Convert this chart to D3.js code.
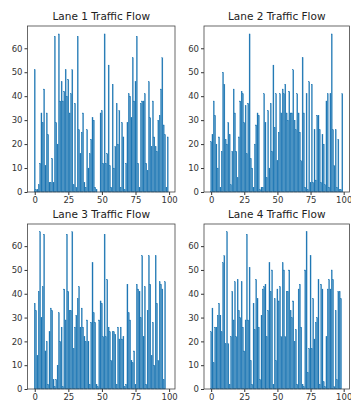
<!DOCTYPE html>
<html>
<head>
<meta charset="utf-8">
<script src="https://cdn.jsdelivr.net/npm/d3@7"></script>
<style>
  body { margin: 0; background: #fff; }
  .tick text { font-family: "DejaVu Sans", sans-serif; font-size: 8.5px; fill: #333; }
  .tick line { stroke: #333; }
  .title { font-family: "DejaVu Sans", sans-serif; font-size: 10.5px; fill: #222; }
</style>
</head>
<body>
<script>
const titles = ['Lane 1 Traffic Flow', 'Lane 2 Traffic Flow', 'Lane 3 Traffic Flow', 'Lane 4 Traffic Flow'];

const lane1 = [51,1,1,3,12,33,29,43,11,33,24,4,4,14,4,65,29,20,66,38,
  46,38,42,51,40,47,33,41,51,3,37,2,65,26,16,25,33,4,2,26,
  10,16,22,31,30,2,1,0,0,33,34,12,66,12,16,53,11,2,45,10,
  19,37,20,34,2,29,23,1,12,29,41,40,31,56,38,46,65,12,2,37,
  38,38,41,12,9,46,31,19,38,23,19,17,30,32,43,56,28,24,2,23];

const lane2 = [21,24,38,32,20,10,23,2,17,50,45,22,20,29,24,3,17,43,33,17,
  6,23,38,42,41,29,36,16,37,66,14,10,2,20,28,33,32,1,2,2,
  41,29,6,34,10,37,17,53,27,41,13,25,41,33,43,41,45,33,30,42,
  33,33,51,30,26,41,33,25,13,56,33,2,41,1,46,4,45,4,26,5,
  32,32,26,4,24,20,3,38,41,2,41,66,26,11,26,2,22,1,1,41];

const lane3 = [36,33,14,41,66,30,43,65,16,20,2,24,34,33,4,1,4,10,32,20,
  26,1,42,29,65,41,33,33,66,17,26,31,38,43,26,34,26,22,20,29,
  20,2,28,53,32,28,2,1,29,37,36,22,65,22,46,26,24,12,24,24,
  23,2,26,21,26,21,22,1,2,44,32,29,12,11,16,2,44,42,41,30,
  56,22,43,2,33,56,44,14,28,10,56,36,12,45,44,42,4,45,0,0];

const lane4 = [24,34,11,26,26,31,36,31,24,53,56,19,66,19,2,22,41,29,45,22,
  46,33,30,45,26,16,29,65,29,51,12,2,36,25,46,38,26,4,31,42,
  43,44,22,33,53,41,50,2,38,12,42,37,43,22,53,50,22,41,41,50,
  33,30,37,20,25,2,42,44,26,2,1,50,66,7,17,56,17,38,21,28,
  30,46,2,44,42,3,1,22,42,46,42,50,46,1,33,4,41,41,38,0];

const lanes = [lane1, lane2, lane3, lane4];
const xTicks = [0, 25, 50, 75, 100];
const yTicks = [0, 10, 20, 30, 40, 50, 60];

const width = 351, height = 400;
const cols = [[27.5, 175], [204, 349.5]];
const rows = [[26, 192], [224, 389]];

const svg = d3.select("body")
  .append("svg")
    .attr("width", width)
    .attr("height", height);

lanes.forEach((data, k) => {
  const [x0, x1] = cols[k % 2];
  const [y0, y1] = rows[Math.floor(k / 2)];

  const n = data.length;
  const span = (n - 1) + 0.8;
  const x = d3.scaleLinear()
    .domain([-0.4 - span * 0.05, n - 1 + 0.4 + span * 0.05])
    .range([x0, x1]);

  const ymax = d3.max(data) * 1.05;
  const y = d3.scaleLinear()
    .domain([0, ymax])
    .range([y1, y0]);

  const g = svg.append("g");

  // thin stroke so the 1px bars blend like the downscaled original
  g.selectAll("rect.bar")
    .data(data)
    .enter().append("rect")
      .attr("class", "bar")
      .attr("x", (d, i) => x(i - 0.4))
      .attr("width", (d, i) => x(i + 0.4) - x(i - 0.4))
      .attr("y", d => y(d))
      .attr("height", d => y(0) - y(d))
      .style("fill", "#1f77b4")
      .style("stroke", "#1f77b4")
      .style("stroke-width", 0.25);

  g.append("g")
    .attr("transform", "translate(0," + y1 + ")")
    .call(d3.axisBottom(x).tickValues(xTicks).tickSize(3).tickPadding(2))
    .call(a => a.select(".domain").remove());

  g.append("g")
    .attr("transform", "translate(" + x0 + ",0)")
    .call(d3.axisLeft(y).tickValues(yTicks).tickSize(3).tickPadding(2))
    .call(a => a.select(".domain").remove());

  g.append("rect")
    .attr("x", x0)
    .attr("y", y0)
    .attr("width", x1 - x0)
    .attr("height", y1 - y0)
    .style("fill", "none")
    .style("stroke", "#444")
    .style("stroke-width", 0.8);

  g.append("text")
    .attr("class", "title")
    .attr("x", (x0 + x1) / 2)
    .attr("y", y0 - 6)
    .attr("text-anchor", "middle")
    .text(titles[k]);
});
</script>
</body>
</html>
